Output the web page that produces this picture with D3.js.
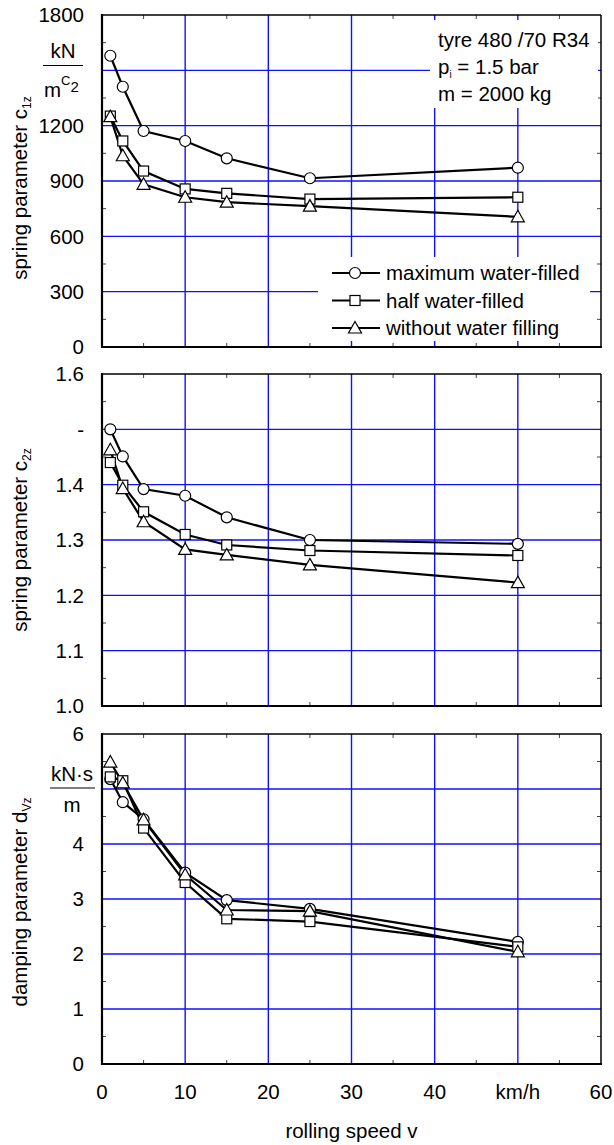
<!DOCTYPE html>
<html><head><meta charset="utf-8">
<script src="https://cdnjs.cloudflare.com/ajax/libs/d3/7.8.5/d3.min.js"></script>
<style>body{margin:0;background:#fff}svg{display:block}text{font-family:"Liberation Sans",Arial,sans-serif;fill:#000}</style>
</head><body><svg id="c" width="614" height="1145"></svg>
<script>
// ---- data ----
const speeds = [1, 2.5, 5, 10, 15, 25, 50];
const seriesNames = ["maximum water-filled", "half water-filled", "without water filling"];
const seriesSymbols = ["circle", "square", "triangle"];
const c1zMax  = [1579, 1411, 1171, 1117, 1023, 915, 972];
const c1zHalf = [1252, 1117, 954, 857, 833, 802, 812];
const c1zNone = [1249, 1037, 882, 812, 785, 764, 706];
const c2zMax  = [1.50, 1.451, 1.392, 1.380, 1.341, 1.300, 1.293];
const c2zHalf = [1.440, 1.399, 1.351, 1.310, 1.291, 1.281, 1.272];
const c2zNone = [1.463, 1.393, 1.333, 1.283, 1.273, 1.255, 1.223];
const dvzMax  = [5.18, 4.76, 4.45, 3.48, 2.98, 2.82, 2.22];
const dvzHalf = [5.22, 5.15, 4.29, 3.30, 2.64, 2.59, 2.13];
const dvzNone = [5.49, 5.11, 4.44, 3.44, 2.80, 2.78, 2.04];
const xTicks = [0, 10, 20, 30, 40, 50, 60];
const xTickLabels = ["0", "10", "20", "30", "40", "km/h", "60"];
const c1zTicks = [0, 300, 600, 900, 1200, 1500, 1800];
const c1zTickLabels = ["0", "300", "600", "900", "1200", "", "1800"];
const c2zTicks = [1.0, 1.1, 1.2, 1.3, 1.4, 1.5, 1.6];
const c2zTickLabels = ["1.0", "1.1", "1.2", "1.3", "1.4", "-", "1.6"];
const dvzTicks = [0, 1, 2, 3, 4, 5, 6];
const dvzTickLabels = ["0", "1", "2", "3", "4", "", "6"];
const annotation = ["tyre 480 /70 R34", "p|i| = 1.5 bar", "m = 2000 kg"];

// ---- layout ----
const svg = d3.select("#c");
const FS = 20.5;
const x = d3.scaleLinear().domain([0, 60]).range([102, 601]);
const panels = [
  {top: 15, bottom: 347, domain: [0, 1800], ticks: c1zTicks, labels: c1zTickLabels, series: [c1zMax, c1zHalf, c1zNone], title: ["spring parameter c", "1z"], titleY: 188},
  {top: 374, bottom: 706, domain: [1.0, 1.6], ticks: c2zTicks, labels: c2zTickLabels, series: [c2zMax, c2zHalf, c2zNone], title: ["spring parameter c", "2z"], titleY: 540},
  {top: 734, bottom: 1064, domain: [0, 6], ticks: dvzTicks, labels: dvzTickLabels, series: [dvzMax, dvzHalf, dvzNone], title: ["damping parameter d", "Vz"], titleY: 902}
];

function marker(g, type, cx, cy) {
  if (type === "circle") g.append("circle").attr("cx", cx).attr("cy", cy).attr("r", 5.5);
  else if (type === "square") g.append("rect").attr("x", cx - 5).attr("y", cy - 5).attr("width", 10).attr("height", 10);
  else g.append("path").attr("d", `M${cx},${cy - 6.5}L${cx + 6.5},${cy + 5}L${cx - 6.5},${cy + 5}Z`);
}

panels.forEach((p, pi) => {
  const y = d3.scaleLinear().domain(p.domain).range([p.bottom, p.top]);
  p.y = y;
  const g = svg.append("g");
  // grid
  g.selectAll(".hg").data(p.ticks.slice(1, -1)).join("line")
    .attr("x1", x.range()[0]).attr("x2", x.range()[1]).attr("y1", d => y(d)).attr("y2", d => y(d))
    .attr("stroke", "#1010ff").attr("stroke-width", 1.4);
  g.selectAll(".vg").data(xTicks.slice(1, -1)).join("line")
    .attr("x1", d => x(d)).attr("x2", d => x(d)).attr("y1", p.top).attr("y2", p.bottom)
    .attr("stroke", "#1010ff").attr("stroke-width", 1.4);
  // minor ticks
  const step = p.ticks[1] - p.ticks[0];
  const ym = p.ticks.slice(0, -1).map(t => t + step / 2);
  const xm = xTicks.slice(0, -1).map(t => t + 5);
  const tk = g.append("g").attr("stroke", "#444").attr("stroke-width", 1);
  ym.forEach(v => {
    tk.append("line").attr("x1", x(0)).attr("x2", x(0) + 4).attr("y1", y(v)).attr("y2", y(v));
    tk.append("line").attr("x1", x(60)).attr("x2", x(60) - 4).attr("y1", y(v)).attr("y2", y(v));
  });
  xm.forEach(v => {
    tk.append("line").attr("x1", x(v)).attr("x2", x(v)).attr("y1", p.bottom).attr("y2", p.bottom - 4);
    tk.append("line").attr("x1", x(v)).attr("x2", x(v)).attr("y1", p.top).attr("y2", p.top + 4);
  });
  p.g = g;
});

// white boxes (legend + annotation) over the grid of the top panel
svg.append("rect").attr("x", 318).attr("y", 257).attr("width", 272).attr("height", 84).attr("fill", "#fff");
svg.append("rect").attr("x", 430).attr("y", 20).attr("width", 168).attr("height", 88).attr("fill", "#fff");

panels.forEach((p, pi) => {
  const y = p.y, g = svg.append("g");
  // frame
  g.append("line").attr("x1", x(0)).attr("x2", x(60)).attr("y1", p.top).attr("y2", p.top).attr("stroke", "#000").attr("stroke-width", 1.5);
  g.append("line").attr("x1", x(60)).attr("x2", x(60)).attr("y1", p.top).attr("y2", p.bottom).attr("stroke", "#000").attr("stroke-width", 1.5);
  g.append("line").attr("x1", x(0)).attr("x2", x(0)).attr("y1", p.top - 1).attr("y2", p.bottom + 1).attr("stroke", "#000").attr("stroke-width", 2.2);
  g.append("line").attr("x1", x(0) - 1).attr("x2", x(60) + 1).attr("y1", p.bottom).attr("y2", p.bottom).attr("stroke", "#000").attr("stroke-width", 2.2);
  // y tick labels
  g.selectAll(".yl").data(p.ticks).join("text")
    .attr("x", 84).attr("y", d => y(d)).attr("dy", "0.36em").attr("text-anchor", "end")
    .attr("font-size", FS).text((d, i) => p.labels[i]);
  // title
  const t = g.append("text").attr("transform", `translate(27,${p.titleY}) rotate(-90)`)
    .attr("text-anchor", "middle").attr("font-size", FS);
  t.append("tspan").text(p.title[0]);
  t.append("tspan").attr("font-size", 12).attr("dy", 4).text(p.title[1]);
  // series
  const line = d3.line().x((d, i) => x(speeds[i])).y(d => y(d));
  p.series.forEach((s, si) => {
    g.append("path").attr("d", line(s)).attr("fill", "none").attr("stroke", "#000").attr("stroke-width", 2.2);
  });
  p.series.forEach((s, si) => {
    const mg = g.append("g").attr("fill", "#fff").attr("stroke", "#000").attr("stroke-width", 1.2);
    s.forEach((v, i) => marker(mg, seriesSymbols[si], x(speeds[i]), y(v)));
  });
});

// unit fractions
const u1 = svg.append("g").attr("font-size", FS);
u1.append("text").attr("x", 63).attr("y", 58).attr("text-anchor", "middle").text("kN");
u1.append("line").attr("x1", 43).attr("x2", 83).attr("y1", 65.5).attr("y2", 65.5).attr("stroke", "#000").attr("stroke-width", 1.2);
const um = u1.append("text").attr("x", 44).attr("y", 97);
um.append("tspan").text("m");
um.append("tspan").attr("font-size", 13).attr("dy", -12).text("C");
um.append("tspan").attr("font-size", 15).attr("dy", 7).text("2");
const u3 = svg.append("g").attr("font-size", FS);
u3.append("text").attr("x", 72).attr("y", 781).attr("text-anchor", "middle").text("kN·s");
u3.append("line").attr("x1", 50).attr("x2", 95).attr("y1", 788).attr("y2", 788).attr("stroke", "#000").attr("stroke-width", 1.2);
u3.append("text").attr("x", 72).attr("y", 812).attr("text-anchor", "middle").text("m");

// x axis labels
svg.selectAll(".xl").data(xTicks).join("text")
  .attr("x", d => x(d)).attr("y", 1099).attr("text-anchor", "middle").attr("font-size", FS)
  .text((d, i) => xTickLabels[i]);
svg.append("text").attr("x", x(30)).attr("y", 1138).attr("text-anchor", "middle").attr("font-size", FS).text("rolling speed v");

// annotation
annotation.forEach((a, i) => {
  const t = svg.append("text").attr("x", 438).attr("y", 47 + i * 27).attr("font-size", FS);
  const parts = a.split("|");
  t.append("tspan").text(parts[0]);
  if (parts.length > 1) {
    t.append("tspan").attr("font-size", 10).attr("dy", 4).text(parts[1]);
    t.append("tspan").attr("dy", -4).text(parts[2]);
  }
});

// legend
seriesNames.forEach((n, i) => {
  const cy = 273 + i * 27.5;
  const lg = svg.append("g");
  lg.append("line").attr("x1", 332).attr("x2", 380).attr("y1", cy).attr("y2", cy).attr("stroke", "#000").attr("stroke-width", 2.2);
  const mg = lg.append("g").attr("fill", "#fff").attr("stroke", "#000").attr("stroke-width", 1.2);
  marker(mg, seriesSymbols[i], 355, cy);
  lg.append("text").attr("x", 386).attr("y", cy + 7).attr("font-size", FS).text(n);
});
</script></body></html>
